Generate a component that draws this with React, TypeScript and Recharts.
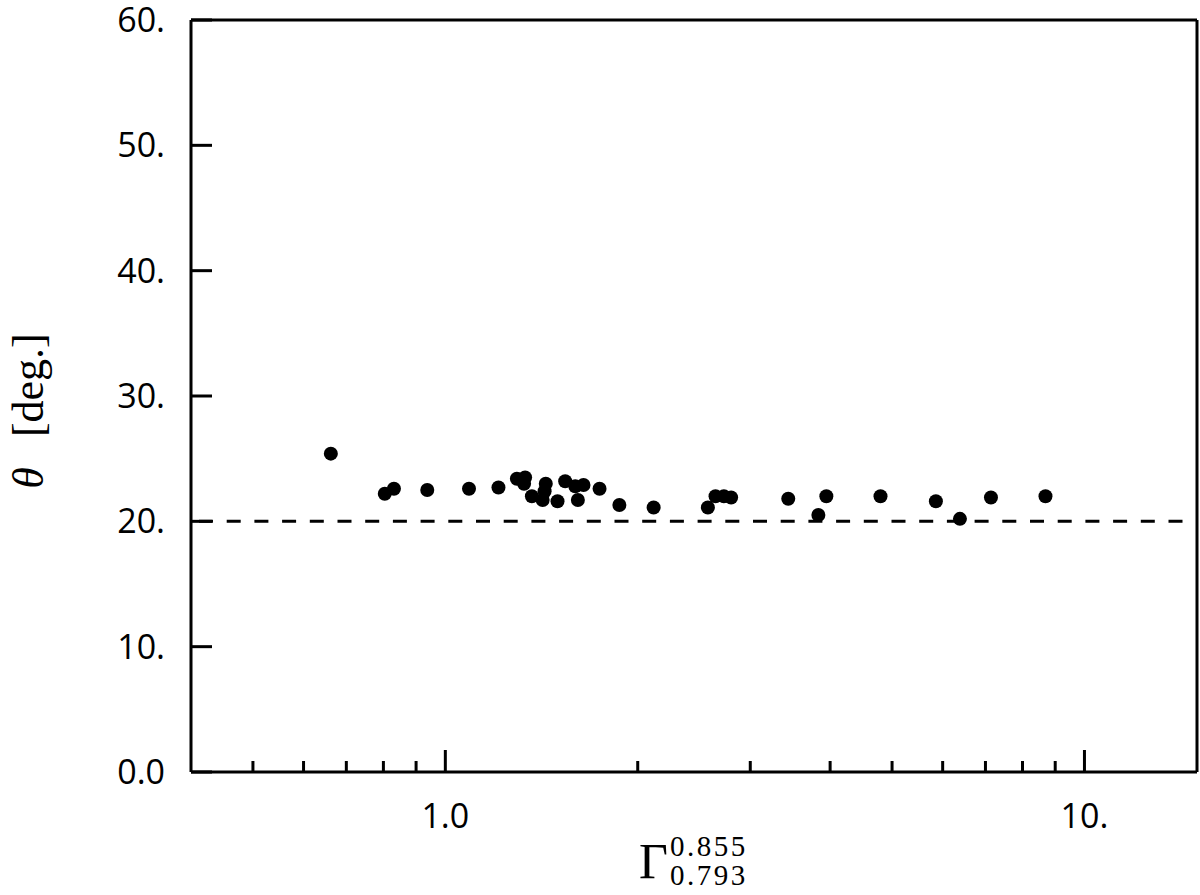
import React from "react";
import { ScatterChart, Scatter, XAxis, YAxis, ReferenceLine } from "recharts";

// Γ values (log x axis) and θ in degrees
const gammaValues = [
  0.662, 0.804, 0.831, 0.937, 1.089, 1.211, 1.294, 1.333, 1.328, 1.366, 1.42, 1.436,
  1.43, 1.498, 1.54, 1.597, 1.645, 1.612, 1.743, 1.872, 2.118, 2.575, 2.647, 2.728,
  2.8, 3.44, 3.834, 3.946, 4.796, 5.855, 6.385, 7.14, 8.69,
];
const thetaValues = [
  25.4, 22.2, 22.6, 22.5, 22.6, 22.7, 23.4, 23.5, 23.0, 22.0, 21.7, 23.0,
  22.4, 21.6, 23.2, 22.8, 22.9, 21.7, 22.6, 21.3, 21.1, 21.1, 22.0, 22.0,
  21.9, 21.8, 20.5, 22.0, 22.0, 21.6, 20.2, 21.9, 22.0,
];

const xDomain = [0.4, 15];
const xTicks = [0.5, 0.6, 0.7, 0.8, 0.9, 1, 2, 3, 4, 5, 6, 7, 8, 9, 10];
const xMajorTicks = [1, 10];
const xTickLabels = ["1.0", "10."];

const yTicks = [0, 10, 20, 30, 40, 50, 60];
const yTickLabels = ["0.0", "10.", "20.", "30.", "40.", "50.", "60."];
const rightTicks = [10, 20, 30, 40, 50];

const referenceTheta = 20;

const data = gammaValues.map((g, i) => ({ gamma: g, theta: thetaValues[i] }));

const tickFont = "Open Sans, DejaVu Sans, sans-serif";
const labelFont = "Liberation Serif, DejaVu Serif, serif";

const LeftTick = (props: any) => {
  const { x, y, payload } = props;
  const idx = yTicks.indexOf(payload.value);
  return (
    <g>
      <line x1={x} y1={y} x2={x + 21} y2={y} stroke="#000" strokeWidth={3} />
      <text x={x - 26} y={y + 12} textAnchor="end" fontSize={34} style={{ fontFamily: tickFont }} fill="#000">
        {yTickLabels[idx]}
      </text>
    </g>
  );
};

const RightTick = (props: any) => {
  const { x, y } = props;
  return <line x1={x} y1={y} x2={x - 22} y2={y} stroke="#000" strokeWidth={3} />;
};

const BottomTick = (props: any) => {
  const { x, y, payload } = props;
  const idx = xMajorTicks.indexOf(payload.value);
  const major = idx >= 0;
  return (
    <g>
      <line x1={x} y1={y} x2={x} y2={y - (major ? 22 : 11)} stroke="#000" strokeWidth={3} />
      {major && (
        <text x={x} y={y + 56} textAnchor="middle" fontSize={34} style={{ fontFamily: tickFont }} fill="#000">
          {xTickLabels[idx]}
        </text>
      )}
    </g>
  );
};

const XLabel = (props: any) => {
  const { x, y, width } = props.viewBox;
  const cx = x + width / 2;
  const st = { fontFamily: labelFont };
  return (
    <g fill="#000">
      <text x={cx - 26} y={y + 106} textAnchor="end" fontSize={50} style={st}>Γ</text>
      <text x={cx - 24} y={y + 84} fontSize={29} letterSpacing={2.5} style={st}>0.855</text>
      <text x={cx - 24} y={y + 113} fontSize={29} letterSpacing={2.5} style={st}>0.793</text>
    </g>
  );
};

const YLabel = (props: any) => {
  const { y, height } = props.viewBox;
  const lx = 43;
  const ly = y + height / 2 + 15;
  return (
    <text
      x={lx}
      y={ly}
      transform={`rotate(-90, ${lx}, ${ly})`}
      textAnchor="middle"
      fontSize={44}
      style={{ fontFamily: labelFont }}
      fill="#000"
    >
      <tspan fontStyle="italic">θ</tspan>
      <tspan dx={30}>[deg.]</tspan>
    </text>
  );
};

const Dot = (props: any) => <circle cx={props.cx} cy={props.cy} r={7} fill="#000" />;

export default function App() {
  return (
    <div style={{ position: "absolute", left: 0, top: 0, background: "#fff" }}>
      <ScatterChart width={1200} height={895} margin={{ top: 20, right: 0, bottom: 0, left: 0 }}>
        <XAxis
          dataKey="gamma"
          type="number"
          scale="log"
          domain={xDomain}
          allowDataOverflow
          ticks={xTicks}
          interval={0}
          height={123}
          tickSize={0}
          tickMargin={0}
          tick={<BottomTick />}
          axisLine={{ stroke: "#000", strokeWidth: 3 }}
          label={<XLabel />}
        />
        <YAxis
          dataKey="theta"
          type="number"
          domain={[0, 60]}
          allowDataOverflow
          ticks={yTicks}
          interval={0}
          width={191}
          tickSize={0}
          tickMargin={0}
          tick={<LeftTick />}
          axisLine={{ stroke: "#000", strokeWidth: 3 }}
          label={<YLabel />}
        />
        <YAxis
          yAxisId="right"
          orientation="right"
          type="number"
          domain={[0, 60]}
          ticks={rightTicks}
          interval={0}
          width={3}
          tickSize={0}
          tickMargin={0}
          tick={<RightTick />}
          axisLine={{ stroke: "#000", strokeWidth: 3 }}
        />
        <ReferenceLine y={60} stroke="#000" strokeWidth={3} />
        <ReferenceLine
          y={referenceTheta}
          stroke="#000"
          strokeWidth={3}
          strokeDasharray="14 13.7"
          strokeDashoffset={-8}
        />
        <Scatter data={data} shape={<Dot />} isAnimationActive={false} />
      </ScatterChart>
    </div>
  );
}
